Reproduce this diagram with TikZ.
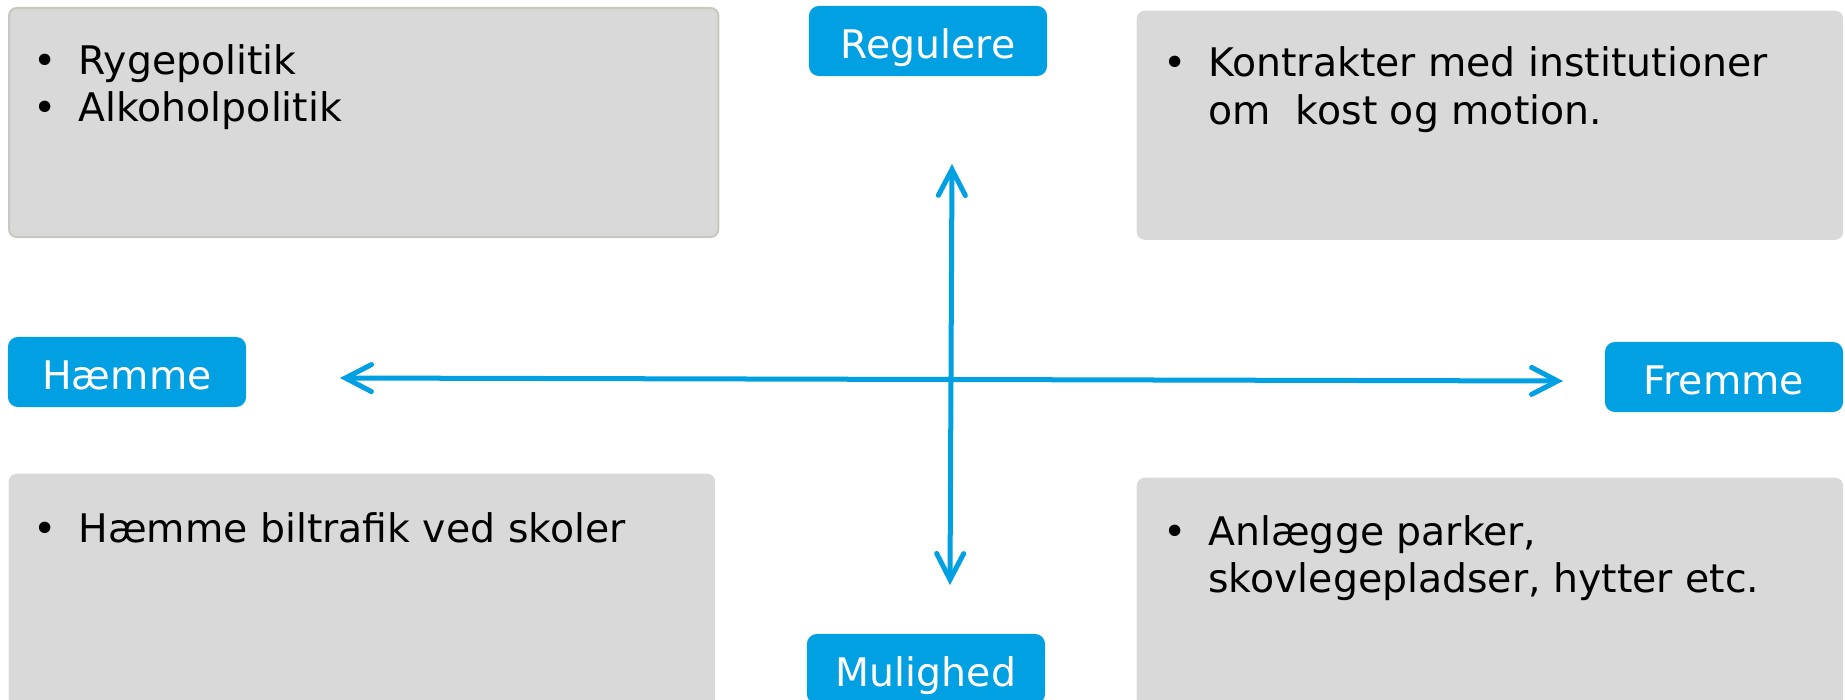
\documentclass[tikz,border=0pt]{standalone}
\usepackage{fontspec}
\setmainfont{DejaVu Sans}
\usetikzlibrary{positioning,arrows.meta}

\definecolor{poleblue}{RGB}{0,160,226}
\definecolor{boxgray}{RGB}{217,217,217}
\definecolor{boxedge}{RGB}{200,200,192}

\begin{document}
\begin{tikzpicture}[
    x=0.01cm, y=-0.01cm,
    % Define quadrant box style
    quad/.style={fill=boxgray, rounded corners=0.08cm, anchor=north west, inner sep=0pt,
                 minimum width=7.06cm},
    % Blue end labels
    pole/.style={fill=poleblue, text=white, rounded corners=0.1cm, inner sep=0pt,
                 minimum width=2.38cm, minimum height=0.70cm,
                 text height=0.36cm, text depth=0.02cm,
                 font=\fontsize{11.2}{13.4}\selectfont},
    itemtxt/.style={anchor=base west, inner sep=0pt, font=\fontsize{11.2}{13.4}\selectfont},
    axisarrow/.style={{Straight Barb[length=0.26cm,width=0.27cm,line cap=round]}-{Straight Barb[length=0.26cm,width=0.27cm,line cap=round]},
                      draw=poleblue, line width=0.05cm}
]

% Canvas
\clip (0,0) rectangle (1845,700);

% Quadrant boxes
\node[quad, draw=boxedge, line width=0.02cm, minimum width=7.09cm, minimum height=2.29cm] (tl) at (8,7) {};
\node[quad, minimum height=2.29cm] (tr) at (1136,10) {};
\node[quad, minimum height=2.6cm] (bl) at (8,473) {};
\node[quad, minimum height=2.6cm] (br) at (1136,477) {};

% Box texts
\newcommand{\itemlist}[1]{\begin{tabular}[t]{@{}l@{\hspace{0.215cm}}l@{}}#1\end{tabular}}
\node[itemtxt] (tltxt) at (33,74) {\itemlist{\textbullet & Rygepolitik\\ \textbullet & Alkoholpolitik}};
\node[itemtxt] (trtxt) at (1163,77) {\itemlist{\textbullet & Kontrakter med institutioner\\ & om~ kost og motion.}};
\node[itemtxt] (bltxt) at (33,542) {\itemlist{\textbullet & Hæmme biltrafik ved skoler}};
\node[itemtxt] (brtxt) at (1163,545) {\itemlist{\textbullet & Anlægge parker,\\ & skovlegepladser, hytter etc.}};

% End labels
\node[pole] (regulere) at (928,41) {Regulere};
\node[pole] (haemme) at (127,372) {Hæmme};
\node[pole] (fremme) at (1724,377) {Fremme};
\node[pole] (mulighed) at (926,669) {Mulighed};

% Axes (free ends)
\coordinate (west) at (340,378);
\coordinate (east) at (1563,381);
\coordinate (north) at (952,164);
\coordinate (south) at (950,585);
\draw[axisarrow] (west) -- (east);
\draw[axisarrow] (north) -- (south);

\end{tikzpicture}
\end{document}
